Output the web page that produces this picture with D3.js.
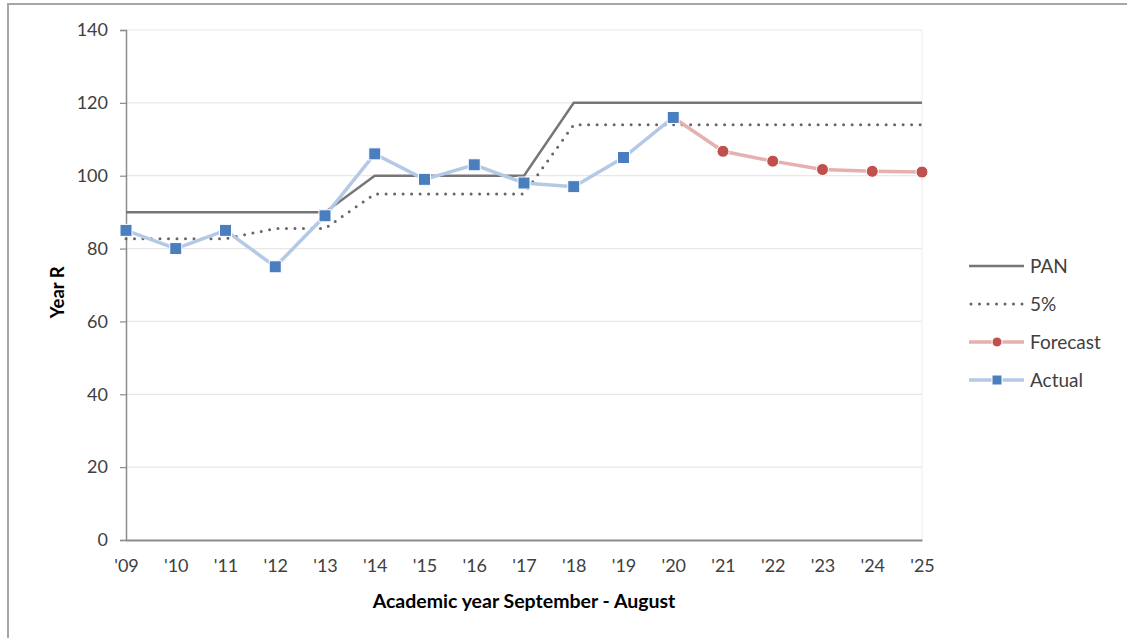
<!DOCTYPE html>
<html>
<head>
<meta charset="utf-8">
<script src="https://cdn.jsdelivr.net/npm/d3@7"></script>
<style>
  body { margin: 0; background: #fff; }
  svg { display: block; font-family: Lato, "Open Sans", sans-serif; }
</style>
</head>
<body>
<div id="chart"></div>
<script>
// chart values
const years = ["'09", "'10", "'11", "'12", "'13", "'14", "'15", "'16", "'17",
               "'18", "'19", "'20", "'21", "'22", "'23", "'24", "'25"];
const panValues = [90, 90, 90, 90, 90, 100, 100, 100, 100, 120, 120, 120, 120, 120, 120, 120, 120];
const fivePctValues = [82.7, 82.7, 82.7, 85.5, 85.5, 95, 95, 95, 95, 114, 114, 114, 114, 114, 114, 114, 114];
const actualYears = ["'09", "'10", "'11", "'12", "'13", "'14", "'15", "'16", "'17", "'18", "'19", "'20"];
const actualValues = [85, 80, 85, 75, 89, 106, 99, 103, 98, 97, 105, 116];
const forecastYears = ["'20", "'21", "'22", "'23", "'24", "'25"];
const forecastValues = [116, 106.7, 104, 101.7, 101.2, 101];
const yTicks = [0, 20, 40, 60, 80, 100, 120, 140];
const legendLabels = ["PAN", "5%", "Forecast", "Actual"];

const width = 1127, height = 638;
const margin = { top: 30, left: 126, right: 205, bottom: 98 };

const svg = d3.select("#chart").append("svg")
    .attr("width", width)
    .attr("height", height);

// frame of the pasted figure
svg.append("path")
    .attr("d", "M8," + height + "V4H" + width)
    .attr("fill", "none")
    .attr("stroke", "#a6a6a6")
    .attr("stroke-width", 2);

const x = d3.scalePoint()
    .domain(years)
    .range([margin.left, width - margin.right]);

const y = d3.scaleLinear()
    .domain([0, 140])
    .range([height - margin.bottom, margin.top]);

// gridlines
svg.append("g")
    .selectAll("line")
    .data(yTicks.slice(1))
    .join("line")
    .attr("x1", margin.left)
    .attr("x2", width - margin.right)
    .attr("y1", d => y(d))
    .attr("y2", d => y(d))
    .attr("stroke", "#e8e8e8")
    .attr("stroke-width", 1.2);

svg.append("line")
    .attr("x1", width - margin.right)
    .attr("x2", width - margin.right)
    .attr("y1", y(140))
    .attr("y2", y(0))
    .attr("stroke", "#ececec")
    .attr("stroke-width", 1);

// y axis
const gY = svg.append("g")
    .attr("transform", "translate(" + margin.left + ",0)")
    .call(d3.axisLeft(y).tickValues(yTicks).tickSize(6).tickPadding(12));
gY.select(".domain").attr("stroke", "#8c8c8c").attr("stroke-width", 1.5);
gY.selectAll(".tick line").attr("stroke", "#8c8c8c").attr("stroke-width", 1.2);
gY.selectAll("text")
    .attr("font-size", "18px")
    .attr("fill", "#404040")
    .attr("font-family", "Lato, sans-serif");

// x axis
const gX = svg.append("g")
    .attr("transform", "translate(0," + y(0) + ")")
    .call(d3.axisBottom(x).tickSize(0).tickPadding(19));
gX.select(".domain").attr("stroke", "#8c8c8c").attr("stroke-width", 2);
gX.selectAll("text")
    .attr("font-size", "18px")
    .attr("fill", "#404040")
    .attr("font-family", "Lato, sans-serif");

// axis titles
svg.append("text")
    .attr("transform", "translate(64," + y(68) + ") rotate(-90)")
    .attr("text-anchor", "middle")
    .attr("font-size", "18.5px")
    .attr("font-weight", "bold")
    .attr("fill", "#000")
    .text("Year R");

svg.append("text")
    .attr("x", 524)
    .attr("y", 608)
    .attr("text-anchor", "middle")
    .attr("font-size", "19.5px")
    .attr("font-weight", "bold")
    .attr("fill", "#000")
    .text("Academic year September - August");

const line = d3.line()
    .x(d => x(d[0]))
    .y(d => y(d[1]));

// PAN
svg.append("path")
    .datum(d3.zip(years, panValues))
    .attr("d", line)
    .attr("fill", "none")
    .attr("stroke", "#767676")
    .attr("stroke-width", 2.5);

// 5%
svg.append("path")
    .datum(d3.zip(years, fivePctValues))
    .attr("d", line)
    .attr("fill", "none")
    .attr("stroke", "#666666")
    .attr("stroke-width", 3)
    .attr("stroke-linecap", "round")
    .attr("stroke-dasharray", "0 8.5");

// forecast
svg.append("path")
    .datum(d3.zip(forecastYears, forecastValues))
    .attr("d", line)
    .attr("fill", "none")
    .attr("stroke", "#e6b0b0")
    .attr("stroke-width", 3.5);

svg.append("g")
    .selectAll("circle")
    .data(d3.zip(forecastYears, forecastValues).slice(1))
    .join("circle")
    .attr("cx", d => x(d[0]))
    .attr("cy", d => y(d[1]))
    .attr("r", 6)
    .attr("fill", "#c0504d")
    .attr("stroke", "#fff")
    .attr("stroke-width", 1);

// actual
svg.append("path")
    .datum(d3.zip(actualYears, actualValues))
    .attr("d", line)
    .attr("fill", "none")
    .attr("stroke", "#b4c9e6")
    .attr("stroke-width", 3.5);

const sq = 12;
svg.append("g")
    .selectAll("rect")
    .data(d3.zip(actualYears, actualValues))
    .join("rect")
    .attr("x", d => x(d[0]) - sq / 2)
    .attr("y", d => y(d[1]) - sq / 2)
    .attr("width", sq)
    .attr("height", sq)
    .attr("fill", "#4a7ebf")
    .attr("stroke", "#fff")
    .attr("stroke-width", 1);

// legend
const legend = svg.append("g").attr("transform", "translate(969,266)");
const rowH = 38;
legendLabels.forEach((label, i) => {
    const g = legend.append("g").attr("transform", "translate(0," + (i * rowH) + ")");
    const l = g.append("line")
        .attr("x1", 0).attr("x2", 55)
        .attr("y1", 0).attr("y2", 0)
        .attr("fill", "none");
    if (label === "PAN") {
        l.attr("stroke", "#767676").attr("stroke-width", 2.5);
    } else if (label === "5%") {
        l.attr("x1", 2).attr("stroke", "#666666").attr("stroke-width", 3)
            .attr("stroke-linecap", "round").attr("stroke-dasharray", "0 8.5");
    } else if (label === "Forecast") {
        l.attr("stroke", "#e6b0b0").attr("stroke-width", 3.5);
        g.append("circle").attr("cx", 28).attr("cy", 0).attr("r", 5)
            .attr("fill", "#c0504d").attr("stroke", "#fff");
    } else {
        l.attr("stroke", "#b4c9e6").attr("stroke-width", 3.5);
        g.append("rect").attr("x", 23).attr("y", -5).attr("width", 10).attr("height", 10)
            .attr("fill", "#4a7ebf").attr("stroke", "#fff");
    }
    g.append("text")
        .attr("x", 61)
        .attr("y", 0)
        .attr("dy", "0.35em")
        .attr("font-size", "19px")
        .attr("fill", "#404040")
        .text(label);
});
</script>
</body>
</html>
